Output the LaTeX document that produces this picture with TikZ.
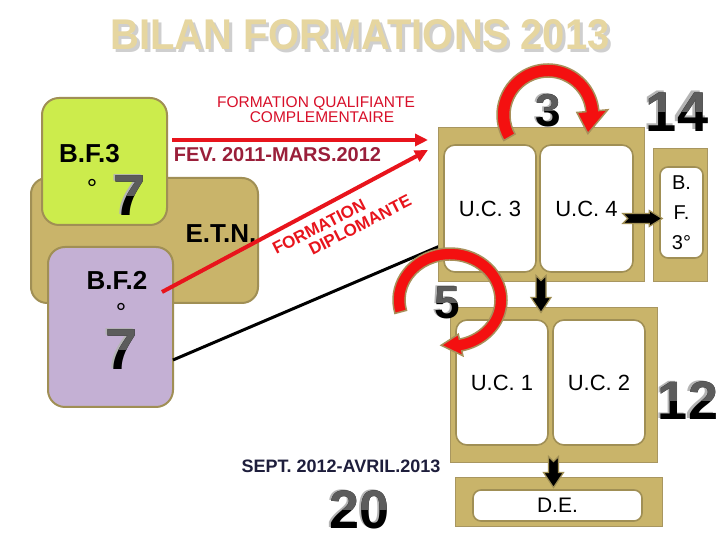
\documentclass[tikz,border=0pt]{standalone}
\usepackage{fontspec}
\setmainfont{Liberation Sans}
\usetikzlibrary{arrows.meta,calc}
\definecolor{boxtan}{HTML}{C9B46A}
\definecolor{boxolive}{HTML}{A08F55}
\definecolor{frameedge}{HTML}{A89660}
\definecolor{bfgreen}{HTML}{CCEC4C}
\definecolor{bflav}{HTML}{C4B0D4}
\definecolor{arrred}{HTML}{E8141C}
\definecolor{arcred}{HTML}{F41010}
\definecolor{arcedge}{HTML}{A8905A}
\definecolor{titlebeige}{HTML}{E6D6A0}
\definecolor{titleshadow}{HTML}{CFCFCF}
\definecolor{numgray}{HTML}{5C5C5C}
\definecolor{numshadow}{HTML}{B4B4B4}
\definecolor{fevred}{HTML}{9A1F3A}
\definecolor{septblue}{HTML}{1E1E3C}
\definecolor{qualred}{HTML}{D8102A}
\newcommand\fs[1]{\fontsize{#1}{#1}\selectfont}
% big outlined number: name, x, y, size, text
\newcommand\bignum[5]{%
  \node[numstyle, text=numshadow] (#1sh) at (#2-2,#3+1.5) {\fs{#4}\bfseries #5};
  \node[numstyle, text=black] (#1) at (#2,#3) {\fs{#4}\bfseries #5};
  \begin{scope}
    \clip (#2-80,#3) rectangle (#2+80,#3+60);
    \node[numstyle, text=numgray] (#1gr) at (#2,#3) {\fs{#4}\bfseries #5};
  \end{scope}}
% black block arrow with olive outline: tail, tip (vertical, pointing down)
\newcommand\downblock[2]{%
  \filldraw[blkshape] ($(#1)+(-5,0)$) -- ($(#1)+(0,-5)$) -- ($(#1)+(5,0)$)
    -- ($(#2)+(5,15)$) -- ($(#2)+(10,15)$) -- (#2) -- ($(#2)+(-10,15)$)
    -- ($(#2)+(-5,15)$) -- cycle;}
\begin{document}
\begin{tikzpicture}[x=1pt,y=1pt,
  numstyle/.style={inner sep=0pt},
  tanframe/.style={draw=frameedge, fill=boxtan, line width=1pt, inner sep=0pt},
  whitebox/.style={draw=boxolive, fill=white, line width=1.6pt, rounded corners=11pt, inner sep=0pt, font=\fs{22}},
  bfbox/.style={draw=boxolive, line width=2pt, rounded corners=17pt, inner sep=0pt},
  boldlabel/.style={font=\fs{26}\bfseries, inner sep=0pt},
  redarrow/.style={draw=arrred, line width=4pt, -{Triangle[length=13pt,width=12pt]}},
  blkshape/.style={fill=black, draw=boxolive, line width=1.2pt, line join=miter},
  arcshape/.style={fill=arcred, draw=arcedge, line width=1.5pt, line join=miter}]
\useasboundingbox (0,0) rectangle (720,540);
\fill[white] (0,0) rectangle (720,540);

% title
\node[font=\fs{43}\bfseries, text=titleshadow, xscale=.93, inner sep=0pt] (titlesh) at (363,502.5) {BILAN FORMATIONS 2013};
\node[font=\fs{43}\bfseries, text=titlebeige, xscale=.93, inner sep=0pt] (title) at (360,505.5) {BILAN FORMATIONS 2013};

% left boxes
\node[bfbox, fill=boxtan, rounded corners=16pt, minimum width=227pt, minimum height=125pt] (etn) at (144.5,299.5) {};
\node[bfbox, fill=bfgreen, minimum width=125pt, minimum height=127pt] (bf3) at (104.5,378.5) {};
\node[bfbox, fill=bflav, minimum width=125pt, minimum height=160pt] (bf2) at (110.5,213) {};

\node[boldlabel] (etnlabel) at (221,306) {E.T.N.};
\node[boldlabel] (bf3label) at (89.5,386) {B.F.3};
\node[font=\fs{26}, inner sep=0pt, anchor=base] (bf3deg) at (92,342) {°};
\node[boldlabel] (bf2label) at (117,260) {B.F.2};
\node[font=\fs{26}, inner sep=0pt, anchor=base] (bf2deg) at (121,218) {°};

% red arrows and labels
\coordinate (qa) at (172,400);
\coordinate (qb) at (428,400);
\draw[redarrow] (qa) -- (qb);
\node[font=\fs{15.5}, text=qualred, inner sep=0pt] (fq1) at (316,436) {FORMATION QUALIFIANTE};
\node[font=\fs{15.5}, text=qualred, inner sep=0pt] (fq2) at (322,423) {COMPLEMENTAIRE};
\node[font=\fs{20}\bfseries, text=fevred, inner sep=0pt] (fev) at (277.5,385) {FEV. 2011-MARS.2012};

\coordinate (da) at (162,248);
\coordinate (db) at (428,390);
\draw[redarrow] (da) -- (db);
\node[font=\fs{17}\bfseries, text=arrred, rotate=27, inner sep=0pt] (fd1) at (319,313.5) {FORMATION};
\node[font=\fs{17}\bfseries, text=arrred, rotate=27, inner sep=0pt] (fd2) at (360,315) {DIPLOMANTE};

% black line
\coordinate (la) at (173,180);
\coordinate (lb) at (440,294);
\draw[line width=3pt] (la) -- (lb);

% right frames
\node[tanframe, minimum width=206pt, minimum height=154pt] (f1) at (541,335) {};
\node[whitebox, minimum width=92pt, minimum height=127pt] (uc3) at (490,331.5) {U.C. 3};
\node[whitebox, minimum width=93pt, minimum height=127pt] (uc4) at (586.5,331.5) {U.C. 4};

\node[tanframe, minimum width=54pt, minimum height=133pt] (f2) at (680,324.5) {};
\node[whitebox, rounded corners=8pt, minimum width=43pt, minimum height=91pt, align=center, font=\fontsize{20}{30}\selectfont] (bfin) at (681.5,327.5) {B.\\F.\\3°};

\node[tanframe, minimum width=207pt, minimum height=155pt] (f3) at (553.5,154.5) {};
\node[whitebox, minimum width=92pt, minimum height=125pt] (uc1) at (502,157.5) {U.C. 1};
\node[whitebox, minimum width=92pt, minimum height=125pt] (uc2) at (599,157.5) {U.C. 2};

\node[tanframe, minimum width=207pt, minimum height=49pt] (f4) at (558.5,37.5) {};
\node[whitebox, rounded corners=8pt, minimum width=169pt, minimum height=31pt, font=\fs{21}] (dein) at (557.5,34.5) {D.E.};

% black block arrows
\coordinate (a1t) at ($(f1.south)+(0,7)$);
\coordinate (a1h) at ($(f1.south |- f3.north)+(0,-5)$);
\downblock{a1t}{a1h}
\coordinate (a2t) at ($(f3.south)+(0,7)$);
\coordinate (a2h) at ($(f3.south |- f4.north)+(0,-10)$);
\downblock{a2t}{a2h}
\coordinate (a3t) at ($(uc4.east)+(-6,-10)$);
\coordinate (bfw) at ($(bfin.west)+(3,0)$);
\coordinate (a3h) at (bfw |- a3t);
\filldraw[blkshape] (a3t) -- ($(a3t)+(-5,5)$) -- ($(a3h)+(-13,5)$) -- ($(a3h)+(-13,8)$) -- (a3h)
  -- ($(a3h)+(-13,-8)$) -- ($(a3h)+(-13,-5)$) -- ($(a3t)+(-5,-5)$) -- cycle;

% red loop arrows
\filldraw[arcshape]
  ([shift={(548,425)}]210:51) arc[start angle=210, end angle=5, radius=51]
  -- ([shift={(548,425)}]5:60) -- ([shift={(548,425)}]-25:44) -- ([shift={(548,425)}]5:29)
  -- ([shift={(548,425)}]5:38) arc[start angle=5, end angle=210, radius=38] -- cycle;
\filldraw[arcshape]
  ([shift={(450,240)}]195:57 and 52) arc[start angle=195, end angle=-78, x radius=57, y radius=52]
  -- ([shift={(450,240)}]-78:62 and 57) -- ([shift={(450,240)}]-100:51 and 46) -- ([shift={(450,240)}]-78:40 and 35)
  -- ([shift={(450,240)}]-78:45 and 40) arc[start angle=-78, end angle=195, x radius=45, y radius=40] -- cycle;

% bottom label
\node[font=\fs{18}\bfseries, text=septblue, inner sep=0pt] (sept) at (341,74) {SEPT. 2012-AVRIL.2013};

% big numbers
\bignum{n7a}{130}{344}{58}{7}
\bignum{n7b}{122}{190}{58}{7}
\bignum{n3}{548}{429}{46}{3}
\bignum{n14}{677}{428}{56}{14}
\bignum{n5}{447}{237}{46}{5}
\bignum{n12}{688}{139}{54}{12}
\bignum{n20}{360}{30}{54}{20}
\end{tikzpicture}
\end{document}
